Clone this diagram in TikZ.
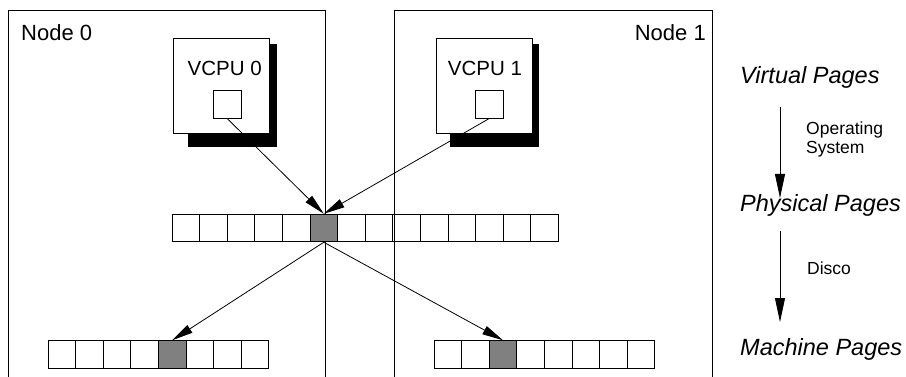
\documentclass[tikz,border=0pt]{standalone}
\usepackage{fontspec}
\setmainfont{Liberation Sans}
\usetikzlibrary{arrows.meta,positioning}

\begin{document}
\begin{tikzpicture}[x=1pt,y=-1pt]
  \tikzset{cell/.style = {shape=rectangle,draw,minimum size=27.6pt,inner sep=0pt,line width=0.9pt}}
  \tikzset{usedcell/.style = {cell,fill=gray}}
  \tikzset{vcpu/.style = {shape=rectangle,draw,fill=white,minimum width=96pt,minimum height=95pt,inner sep=0pt,line width=0.7pt}}
  \tikzset{vshadow/.style = {shape=rectangle,fill=black,minimum width=89pt,minimum height=103pt,inner sep=0pt}}
  \tikzset{vpage/.style = {shape=rectangle,draw,fill=white,minimum size=28pt,inner sep=0pt,line width=0.7pt}}
  \tikzset{region/.style = {line width=0.9pt}}
  \tikzset{regionlabel/.style = {inner sep=0pt,font=\fontsize{22}{26}\selectfont}}
  \tikzset{vcpulabel/.style = {inner sep=0pt,font=\fontsize{20.5}{24}\selectfont}}
  \tikzset{level/.style = {inner sep=0pt,anchor=base west,font=\fontsize{23.5}{28}\selectfont\itshape}}
  \tikzset{mapper/.style = {inner sep=0pt,anchor=base west,align=left,font=\fontsize{17.5}{19}\selectfont}}
  \tikzset{edge/.style = {-{Triangle[length=21pt,width=9pt]},line width=0.8pt}}
  \tikzset{bigedge/.style = {-{Triangle[length=24pt,width=10pt]},line width=0.8pt}}

  \useasboundingbox (0,0) rectangle (906,377);

  % the two machine nodes
  \draw[region] (8,377) -- (8,10) -- (325,10) -- (325,377);
  \draw[region] (394,377) -- (394,10) -- (712,10) -- (712,377);
  \node[regionlabel,anchor=west] (N0) at (21,33) {Node 0};
  \node[regionlabel,anchor=east] (N1) at (706,33) {Node 1};

  % virtual cpus
  \node[vshadow] (S0) at (232.5,95.5) {};
  \node[vcpu] (V0) at (221,85.5) {};
  \node[vcpulabel] (L0) at (224.7,68.5) {VCPU 0};
  \node[vpage] (P0) at (227,104) {};

  \node[vshadow] (S1) at (494,95.5) {};
  \node[vcpu] (V1) at (484,85.5) {};
  \node[vcpulabel] (L1) at (485,68.5) {VCPU 1};
  \node[vpage] (P1) at (489.5,104) {};

  % physical pages
  \foreach \i in {0,...,13}
    \node[cell] (ph\i) at (185.8+27.6*\i,228) {};
  \node[usedcell] at (ph5) {};

  % machine pages
  \foreach \i in {0,...,7}
    \node[cell] (ma\i) at (61.8+27.6*\i,354.5) {};
  \node[usedcell] at (ma4) {};
  \foreach \i in {0,...,7}
    \node[cell] (mb\i) at (447.8+27.6*\i,354.5) {};
  \node[usedcell] at (mb2) {};

  \foreach \from/\to in {P0/ph5, P1/ph5}
    \draw[edge] (\from.south) -- (\to.north);
  \foreach \from/\to in {ph5/ma4, ph5/mb2}
    \draw[edge] (\from.south) -- (\to.north);

  % levels of mapping
  \node[level] (VP) at (740,84) {Virtual Pages};
  \node[level] (PP) at (740,212) {Physical Pages};
  \node[level] (MP) at (740,355) {Machine Pages};
  \node[mapper] (OS) at (806,154) {Operating\\System};
  \node[mapper] (DI) at (807,274) {Disco};
  \coordinate (a1) at (780,107);
  \coordinate (b1) at (780,198);
  \coordinate (a2) at (780,231);
  \coordinate (b2) at (780,322);
  \draw[bigedge] (a1) -- (b1);
  \draw[bigedge] (a2) -- (b2);
\end{tikzpicture}
\end{document}
